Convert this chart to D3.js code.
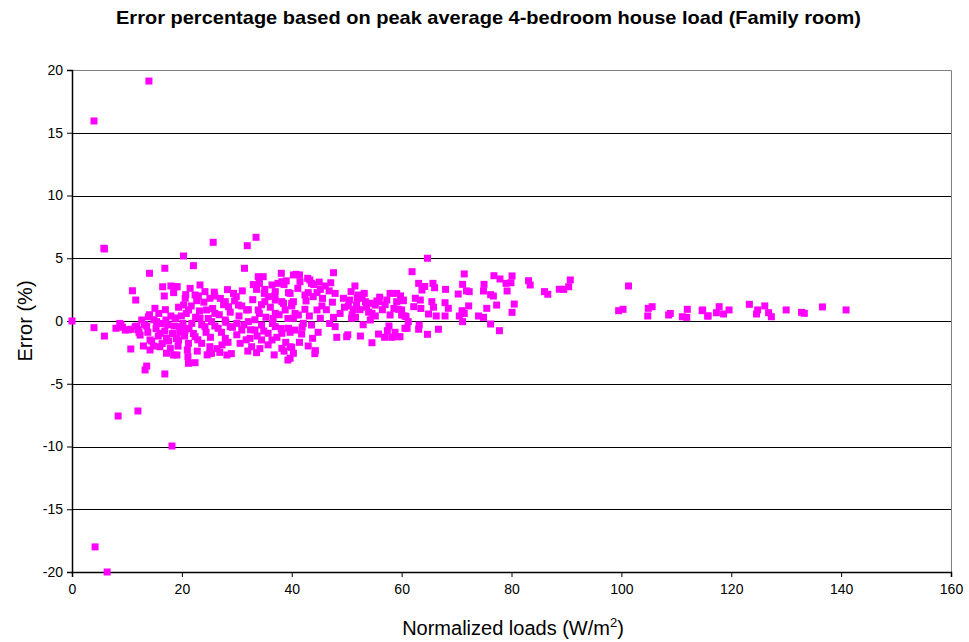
<!DOCTYPE html>
<html>
<head>
<meta charset="utf-8">
<script src="https://cdn.jsdelivr.net/npm/d3@7/dist/d3.min.js"></script>
<style>
  html, body { margin: 0; padding: 0; background: #fff; }
  svg { display: block; font-family: "Liberation Sans", Arial, sans-serif; }
</style>
</head>
<body>
<svg id="chart" width="969" height="642"></svg>
<script>
// Normalized load (W/m2) for each room/case
const loads = [
  0.0, 4.0, 14.0, 5.8, 8.4, 12.0, 18.2, 4.2, 6.4,
  // right-hand sparse tail
  114.8, 115.7, 117.3, 117.8, 118.6, 119.6, 123.3, 124.6, 124.8, 126.1, 126.8, 127.3, 130.0, 132.8, 133.3, 136.6, 140.9,
  89.5, 90.7, 90.4, 101.3, 99.5, 100.3, 104.9, 104.8, 105.6, 108.6, 108.9, 111.1, 112.0, 111.9, 114.7, 115.8,
  // 60 - 90 W/m2
  64.7, 61.9, 71.4, 76.8, 77.9, 79.0, 80.1, 79.9, 83.1, 83.4, 86.0, 86.6, 88.7, 63.1, 63.7, 64.2, 65.7, 66.0, 68.0,
  71.1, 70.3, 72.3, 71.8, 75.0, 74.9, 76.7, 76.2, 77.3, 79.2, 80.5, 80.1, 75.5, 76.2, 77.8, 74.0, 74.9, 72.2, 71.0,
  71.4, 70.5, 71.1, 67.9, 68.5, 67.9, 65.5, 65.8, 66.3, 64.9, 63.4, 62.5, 62.2, 63.5, 60.3, 60.0, 60.6, 61.2, 61.0,
  63.2, 63.1, 64.7, 66.7, 59.7,
  // 40 - 60 W/m2
  40.8, 41.4, 41.5, 43.3, 43.6, 47.6, 47.1, 46.1, 45.2, 44.6, 43.0, 42.4, 43.9, 39.7, 40.3, 40.0, 47.9, 45.5, 44.6,
  42.4, 41.2, 40.3, 42.1, 43.6, 45.2, 47.6, 47.9, 40.6, 41.8, 43.8, 43.0, 44.3, 40.0, 40.3, 39.7, 49.4, 50.5, 50.8,
  51.5, 52.1, 52.8, 53.4, 51.8, 51.2, 50.9, 51.6, 54.3, 55.2, 55.8, 54.6, 54.3, 55.2, 57.9, 59.1, 57.3, 59.1, 60.3,
  59.4, 57.9, 60.0, 60.8, 60.6, 50.0, 50.2, 52.5, 55.8, 54.6, 57.4, 58.2, 59.4,
  40.6, 41.1, 41.9, 42.6, 43.2, 44.0, 44.8, 45.6, 46.3, 46.9, 47.4, 48.2, 48.8, 49.6, 42.9, 45.0, 46.8, 41.4, 44.2,
  50.3, 51.0, 51.9, 52.4, 53.0, 53.6, 54.0, 56.0, 56.5, 57.0, 57.7, 58.6, 59.8, 55.5, 53.2, 56.9, 58.8,
  // 18 - 40 W/m2
  20.3, 25.7, 33.5, 31.9, 22.1, 31.4, 33.9, 34.8, 38.1, 40.3, 33.6, 34.1, 35.1, 36.4, 37.0, 38.2, 38.6, 39.4, 19.1,
  21.5, 23.3, 24.2, 26.0, 25.1, 22.4, 22.7, 20.6, 20.3, 21.2, 29.4, 29.9, 27.9, 28.5, 30.3, 31.8, 33.9, 35.1, 35.7,
  37.0, 38.2, 40.0, 38.8, 37.0, 36.6, 24.5, 26.0, 18.8, 19.7, 20.6, 21.8, 23.3, 24.2, 25.4, 26.6, 27.9, 28.8, 30.0,
  30.9, 32.1, 33.3, 34.5, 35.7, 37.0, 38.2, 39.4, 19.4, 21.2, 22.4, 23.6, 25.1, 25.4, 27.3, 27.9, 30.6, 32.7, 33.6,
  32.4, 34.5, 36.4, 38.2, 39.7, 39.3, 19.1, 21.1, 21.2, 22.4, 28.2, 25.0,
  20.8, 21.3, 21.7, 22.1, 22.5, 22.9, 23.2, 23.6, 24.0, 24.4, 24.8, 25.2, 25.6, 26.0, 26.4, 26.8, 27.2, 27.6, 28.0,
  28.4, 28.8, 29.2, 29.6, 30.0, 21.0, 22.8, 24.6, 26.9, 29.0, 23.0, 25.9, 28.3, 20.7, 27.0,
  30.4, 30.9, 31.3, 31.7, 32.1, 32.5, 32.9, 33.3, 33.7, 34.1, 34.5, 34.9, 35.3, 35.7, 36.1, 36.5, 36.9, 37.3, 37.7,
  38.1, 38.5, 38.9, 39.3, 39.7, 31.0, 33.0, 35.0, 37.5, 39.0, 32.0, 34.2, 36.8, 38.6,
  // 0 - 20 W/m2
  5.9, 14.1, 16.9, 11.0, 11.6, 16.5, 18.0, 16.8, 18.5, 19.1, 15.1, 4.0, 5.9, 8.0, 8.7, 9.7, 10.7, 10.7, 12.7, 12.4,
  13.9, 13.6, 13.0, 14.2, 13.6, 13.3, 16.9, 15.4, 16.0, 17.2, 17.2, 18.5, 17.1, 18.8, 16.0, 14.2, 14.8, 11.5, 12.0,
  13.2, 13.8, 14.5, 14.9, 15.3, 15.7, 16.2, 16.4, 16.9, 17.4, 17.6, 17.9, 18.3, 18.6, 19.0, 19.3, 19.6, 19.9, 20.2,
  20.5, 14.1, 15.8, 17.0, 18.0, 19.4, 12.2, 11.8, 10.3, 9.2, 8.9
];

// Error (%) of the simplified method for the same cases
const errors = [
  0.00, 15.94, 19.12, 5.80, -7.57, -7.17, -9.96, -18.00, -20.00,
  0.88, 0.40, 0.66, 1.14, 0.56, 0.88, 1.33, 0.56, 0.88, 1.20, 0.66, 0.34, 0.88, 0.69, 0.61, 1.12, 0.88,
  2.52, 3.27, 2.73, 2.79, 0.82, 0.93, 1.01, 0.40, 1.14, 0.48, 0.60, 0.34, 0.93, 0.29, 0.82, 0.40,
  5.00, 3.93, 3.75, 3.61, 3.35, 3.00, 3.59, 3.05, 3.21, 2.87, 2.34, 2.13, 2.53, 3.00, 2.47, 2.75, 3.00, 2.65, 2.52,
  2.92, 2.15, 2.34, 2.40, 2.92, 2.39, 1.99, 2.10, 1.27, 2.39, 1.35, 0.69, 1.01, -0.24, -0.77, 0.40, 0.29, 1.20, 0.82,
  0.60, 0.40, -0.05, 1.46, 1.01, 0.40, 1.54, 1.10, 0.40, 0.56, 1.67, 1.81, 1.14, 1.00, 1.67, 0.88, 0.40, -0.05, -0.58,
  -0.32, -0.66, -1.06, -0.66, -1.25,
  3.72, 3.67, 3.13, 3.27, 3.00, 3.85, 3.05, 2.79, 2.52, 2.26, 2.26, 2.07, 1.94, 2.20, 1.54, 1.20, 2.20, 1.20, 0.88,
  0.93, 0.48, 0.22, -0.19, -0.32, 0.22, 0.29, -0.45, -0.72, -1.04, -1.38, -1.99, -2.36, -2.10, -2.57, -2.97, 1.81, 1.67, 2.34,
  2.79, 2.07, 1.81, 1.54, 1.27, 0.93, 0.22, 0.30, 1.41, 1.27, 1.54, 0.61, 0.08, 0.40, 2.20, 2.20, 1.67, 1.54, 1.62,
  0.93, 0.48, 0.48, 0.35, -0.58, -1.25, -1.10, -1.20, -1.04, -1.73, -0.77, -1.30, -1.25,
  0.60, 2.60, -0.50, 1.60, 0.40, 2.90, -0.90, 1.80, 0.90, -0.20, 1.50, -1.30, 0.60, 1.10, 3.40, 3.10, 2.40, -1.70, -2.60,
  1.20, 0.50, 1.80, 0.90, -0.30, 1.10, 0.70, 1.90, 0.90, 1.30, -0.40, 1.00, 2.00, 1.60, 2.20, -1.30, -0.90,
  5.18, 6.27, 6.67, 6.00, 4.41, 4.20, 3.53, 3.53, 3.80, 3.67, 2.52, 3.00, 2.52, 2.87, 2.34, 3.13, 2.90, 2.26, 2.73,
  2.60, 2.87, 2.34, 1.99, 1.81, 2.07, 1.62, 1.81, 1.27, 0.88, 2.20, 1.94, 1.54, 1.14, 1.27, 0.88, 0.88, 1.54, 1.94,
  1.67, 1.54, 1.41, 0.88, 0.61, 0.20, 0.88, 0.61, 0.22, -0.45, -0.72, -0.19, 0.22, -0.45, -0.05, -0.58, 0.08, -0.45, -0.19,
  -0.72, -0.05, -0.72, -0.32, -0.98, -0.45, -0.98, -0.58, -1.51, -1.78, -1.25, -1.78, -2.05, -2.57, -1.91, -1.38, -1.78, -2.05, -2.52,
  -1.38, -1.51, -1.51, -2.18, -2.05, -3.11, -2.71, -2.84, -3.37, -3.32, -2.71, -2.60,
  0.60, -0.60, 1.20, -1.00, 0.30, -1.50, 0.80, -0.30, 1.50, -0.90, 0.20, -1.30, 1.00, -0.40, -2.20, 0.50, -0.90, 1.30, -0.10,
  -1.70, 0.70, -0.50, 1.60, -1.10, -2.30, -2.40, -2.70, -2.50, -2.60, 2.00, 2.30, 2.50, 2.10, 1.80,
  0.40, 1.20, -0.30, -1.50, 0.90, -0.70, 1.70, 0.10, -1.20, 0.60, 1.30, -0.80, 0.30, -1.90, 1.10, -0.20, 2.00, -1.30, 0.50,
  -0.60, 1.40, -1.70, 0.20, -0.90, 2.40, 2.90, 2.20, 3.00, 3.20, -2.40, -2.20, -2.70, -2.40,
  5.74, 3.80, 4.20, 2.41, 1.67, 2.73, 2.79, 1.99, 2.26, 2.73, 1.01, -0.53, -1.20, -0.58, -0.19, -0.72, -2.23, -0.66, 0.08, -1.12,
  0.34, -0.40, -1.99, -2.31, -3.59, -3.90, -4.22, -0.05, -0.98, -1.38, -2.57, -2.71, 0.08, 0.22, -2.05, -1.51, -1.99, -0.45, -0.70,
  -0.30, -0.90, -1.60, 0.10, -0.60, -1.20, -0.20, -1.80, -0.80, -0.30, -1.60, -2.20, -1.00, -0.40, -1.40, -2.00, -0.90, 0.40, -0.20,
  -1.20, 0.50, 0.60, 0.90, 0.40, 1.10, -0.90, -0.40, -0.70, -0.50, -0.30
];

const xTicks = [0, 20, 40, 60, 80, 100, 120, 140, 160];
const yTicks = [-20, -15, -10, -5, 0, 5, 10, 15, 20];

const points = loads.map((v, i) => ({ load: v, err: errors[i] }));

const svg = d3.select("#chart");
const x = d3.scaleLinear().domain([0, 160]).range([72, 951]);
const y = d3.scaleLinear().domain([-20, 20]).range([572, 70]);

// Plain hyphen for negative tick labels
const tickText = d => String(d);

// Title
svg.append("text")
  .attr("x", 488.5).attr("y", 24)
  .attr("text-anchor", "middle")
  .attr("textLength", 745).attr("lengthAdjust", "spacingAndGlyphs")
  .style("font-weight", "bold").style("font-size", "19px")
  .text("Error percentage based on peak average 4-bedroom house load (Family room)");

// Horizontal gridlines
svg.append("g").selectAll("line")
  .data(yTicks.filter(t => t > -20 && t < 20))
  .join("line")
  .attr("x1", x(0)).attr("x2", x(160))
  .attr("y1", d => Math.round(y(d)) + 0.5).attr("y2", d => Math.round(y(d)) + 0.5)
  .attr("stroke", "#000").attr("stroke-width", 1);

// Plot area border (top and right)
svg.append("path")
  .attr("d", `M${x(0)},${y(20) + 0.5}H${x(160) + 0.5}V${y(-20)}`)
  .attr("fill", "none").attr("stroke", "#808080").attr("stroke-width", 1);

// Y axis
const yAxis = svg.append("g")
  .attr("transform", `translate(${x(0)},0)`)
  .call(d3.axisLeft(y).tickValues(yTicks).tickSize(5).tickPadding(4).tickFormat(tickText));
yAxis.select(".domain").attr("stroke", "#000").attr("stroke-width", 1.5);
yAxis.selectAll(".tick line").attr("stroke", "#000");
yAxis.selectAll("text").style("font-size", "14px").attr("fill", "#000")
  .style("font-family", "'Liberation Sans', Arial, sans-serif");

// X axis
const xAxis = svg.append("g")
  .attr("transform", `translate(0,${y(-20)})`)
  .call(d3.axisBottom(x).tickValues(xTicks).tickSize(5).tickPadding(7).tickFormat(tickText));
xAxis.select(".domain").attr("stroke", "#000").attr("stroke-width", 1.5);
xAxis.selectAll(".tick line").attr("stroke", "#000");
xAxis.selectAll("text").style("font-size", "14px").attr("fill", "#000")
  .style("font-family", "'Liberation Sans', Arial, sans-serif");

// Axis titles
svg.append("text")
  .attr("transform", `translate(32,${y(0)}) rotate(-90)`)
  .attr("text-anchor", "middle")
  .style("font-size", "20px")
  .text("Error (%)");

const xt = svg.append("text")
  .attr("x", 513).attr("y", 635)
  .attr("text-anchor", "middle")
  .style("font-size", "20px");
xt.append("tspan").text("Normalized loads (W/m");
xt.append("tspan").attr("dy", -8).style("font-size", "13px").text("2");
xt.append("tspan").attr("dy", 8).text(")");

// Data markers
const size = 7;
svg.append("g").selectAll("rect")
  .data(points)
  .join("rect")
  .attr("x", d => x(d.load) - size / 2)
  .attr("y", d => y(d.err) - size / 2)
  .attr("width", size).attr("height", size)
  .attr("fill", "#ff00ff");
</script>
</body>
</html>
